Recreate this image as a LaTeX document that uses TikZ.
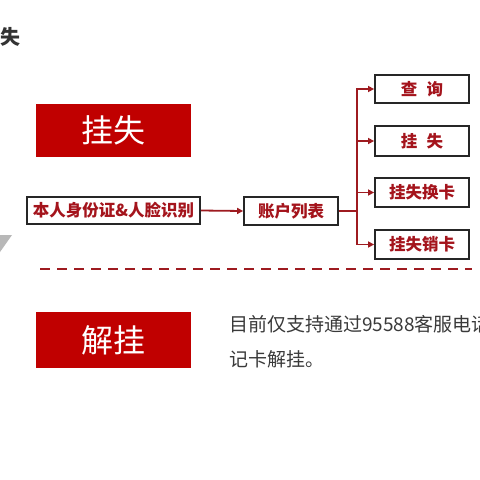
\documentclass[tikz,border=0pt]{standalone}
\usepackage{fontspec}
\setmainfont{Noto Sans CJK SC}
\newfontfamily\cjk{Noto Sans CJK SC}
\usetikzlibrary{arrows.meta}
\definecolor{boxred}{HTML}{C00000}
\definecolor{txtred}{HTML}{A4141C}
\definecolor{linered}{HTML}{9E1B20}
\definecolor{darkgray}{HTML}{333333}
\definecolor{paragray}{HTML}{3A3A3A}
\tikzset{
  redbox/.style={fill=boxred, draw=none, text=white, font=\cjk\fontsize{32}{32}\selectfont, inner sep=0pt},
  flowbox/.style={draw=black!85, line width=1.8pt, fill=white, text=txtred, font=\cjk\bfseries\fontsize{16.5}{16.5}\selectfont, inner sep=0pt},
  conn/.style={draw=linered, line width=1.8pt},
  arr/.style={conn, -{Triangle[length=6pt,width=6pt]}},
  para/.style={text=paragray, font=\cjk\fontsize{19}{19}\selectfont, anchor=west, inner sep=0pt}
}
\begin{document}
\begin{tikzpicture}[x=1pt,y=-1pt]
\useasboundingbox (0,0) rectangle (480,480);
\clip (0,0) rectangle (480,480);
\fill[white] (0,0) rectangle (480,480);
% title fragment
\node[text=darkgray, font=\cjk\bfseries\fontsize{20}{20}\selectfont, anchor=west, inner sep=0pt] (title) at (0,37) {失};
% gray wedge
\fill[black!28] (0,235) -- (12,235) -- (0,252) -- cycle;
% red headers
\node[redbox, minimum width=155pt, minimum height=53pt] (gs) at (113.5,130.5) {挂失};
\node[redbox, minimum width=155pt, minimum height=56pt] (jg) at (113.5,340) {解挂};
% flow boxes
\node[flowbox, minimum width=173pt, minimum height=27pt] (id) at (113.5,210.5) {本人身份证\&人脸识别};
\node[flowbox, minimum width=94pt, minimum height=28pt] (acc) at (291,211) {账户列表};
\node[flowbox, minimum width=94pt, minimum height=28pt] (q) at (422,89) {查\hspace{0.55em}询};
\node[flowbox, minimum width=94pt, minimum height=30pt] (l) at (422,141) {挂\hspace{0.55em}失};
\node[flowbox, minimum width=94pt, minimum height=29pt] (lr) at (422,192.5) {挂失换卡};
\node[flowbox, minimum width=94pt, minimum height=29pt] (lc) at (422,244.5) {挂失销卡};
% connectors
\draw[arr] (id.east) -- (acc.west);
\coordinate (br) at (357,211);
\draw[conn] (acc.east) -- (br);
\draw[conn] (357,88) -- (357,244.5);
\draw[arr] (357,89) -- (q.west);
\draw[arr] (357,141) -- (l.west);
\draw[arr] (357,192.5) -- (lr.west);
\draw[arr] (357,244.5) -- (lc.west);
% dashed separator
\draw[draw=linered, line width=2pt, dash pattern=on 10pt off 7pt] (40,269) -- (472,269);
% paragraph
\node[para] (p1) at (229,324) {目前仅支持通过95588客服电话};
\node[para] (p2) at (229,359) {记卡解挂。};
\end{tikzpicture}
\end{document}
